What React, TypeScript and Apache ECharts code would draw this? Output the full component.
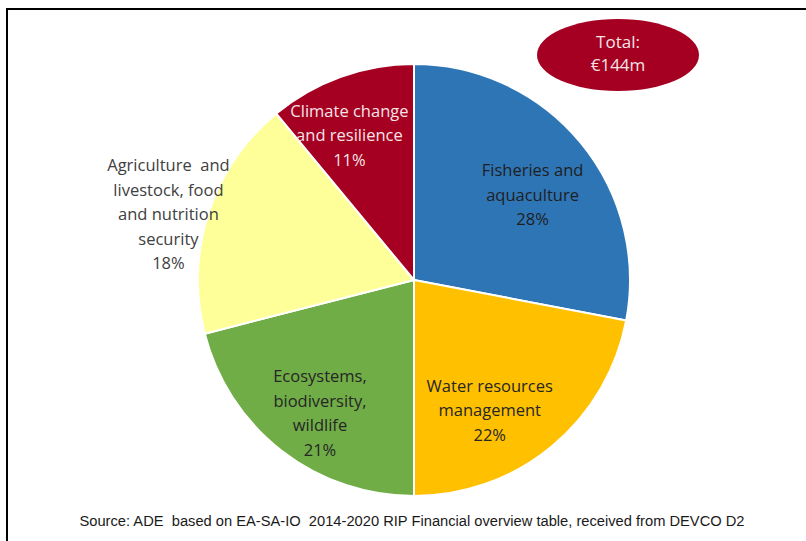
import React, { useEffect, useRef } from "react";
import * as echarts from "echarts";

const categories = [
  "Fisheries and\naquaculture",
  "Water resources\nmanagement",
  "Ecosystems,\nbiodiversity,\nwildlife",
  "Agriculture  and\nlivestock, food\nand nutrition\nsecurity",
  "Climate change\nand resilience",
];
const shares = [28, 22, 21, 18, 11];
const colors = ["#2E75B6", "#FFC000", "#70AD47", "#FFFF99", "#A50021"];
const labelColors = ["#1F1F1F", "#262626", "#262626", "#404040", "#F4E4E6"];
const labelShift = [
  [33, -15],
  [5, 44],
  [-26, 45],
  [-140, -32],
  [-27, -41],
];
const totalLines = ["Total:", "€144m"];
const sourceText =
  "Source: ADE  based on EA-SA-IO  2014-2020 RIP Financial overview table, received from DEVCO D2";

export default function App() {
  const ref = useRef<HTMLDivElement>(null);
  useEffect(() => {
    if (!ref.current) return;
    const chart = echarts.init(ref.current, undefined, { renderer: "svg" });
    chart.setOption({
      animation: false,
      backgroundColor: "#FFFFFF",
      graphic: [
        {
          type: "rect",
          shape: { x: 7, y: 9, width: 830, height: 560 },
          style: { fill: "none", stroke: "#000000", lineWidth: 2 },
          silent: true,
        },
        {
          type: "ellipse",
          shape: { cx: 618, cy: 55, rx: 81, ry: 36 },
          style: { fill: "#A50021" },
          silent: true,
        },
        {
          type: "text",
          x: 618,
          y: 53,
          style: {
            text: totalLines.join("\n"),
            fill: "#F4E4E6",
            font: "17px 'Open Sans'",
            lineHeight: 23,
            align: "center",
            verticalAlign: "middle",
          },
        },
        {
          type: "text",
          x: 412,
          y: 521,
          style: {
            text: sourceText,
            fill: "#1A1A1A",
            font: "14.7px 'Liberation Sans'",
            align: "center",
            verticalAlign: "middle",
          },
        },
      ],
      series: [
        {
          type: "pie",
          center: [414, 280],
          radius: [0, 216],
          startAngle: 90,
          clockwise: true,
          silent: true,
          itemStyle: { borderColor: "#FFFFFF", borderWidth: 2 },
          label: {
            show: true,
            position: "inside",
            fontFamily: "'Open Sans'",
            fontSize: 16.5,
            lineHeight: 24.5,
            align: "center",
            formatter: (p: any) => `${p.name}\n${p.value}%`,
          },
          labelLine: { show: false },
          labelLayout: (p: any) => ({
            dx: labelShift[p.dataIndex][0],
            dy: labelShift[p.dataIndex][1],
          }),
          data: categories.map((name, i) => ({
            name,
            value: shares[i],
            itemStyle: { color: colors[i] },
            label: { color: labelColors[i] },
          })),
        },
      ],
    });
    return () => chart.dispose();
  }, []);
  return (
    <div
      ref={ref}
      style={{ position: "fixed", left: 0, top: 0, width: 806, height: 541 }}
    />
  );
}
